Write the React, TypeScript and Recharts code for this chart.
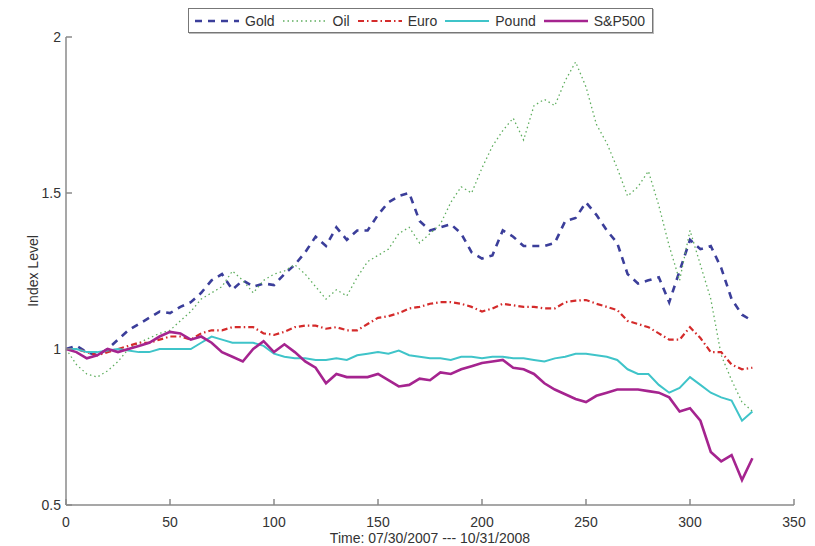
import { LineChart, Line, XAxis, YAxis, Legend } from 'recharts';

const FONT = '"Liberation Sans", Arial, Helvetica, sans-serif';

// trading days since 07/30/2007, sampled every 5 days
const days = [
  0, 5, 10, 15, 20, 25, 30, 35, 40, 45, 50, 55, 60, 65, 70, 75, 80, 85, 90, 95,
  100, 105, 110, 115, 120, 125, 130, 135, 140, 145, 150, 155, 160, 165, 170, 175,
  180, 185, 190, 195, 200, 205, 210, 215, 220, 225, 230, 235, 240, 245, 250, 255,
  260, 265, 270, 275, 280, 285, 290, 295, 300, 305, 310, 315, 320, 325, 330,
];

const gold = [
  1.0, 1.01, 0.99, 0.98, 1.0, 1.03, 1.06, 1.08, 1.1, 1.12, 1.115, 1.135, 1.15, 1.18,
  1.22, 1.24, 1.19, 1.22, 1.2, 1.21, 1.205, 1.24, 1.27, 1.31, 1.36, 1.33, 1.39, 1.35,
  1.38, 1.38, 1.43, 1.47, 1.49, 1.5, 1.41, 1.38, 1.39, 1.4, 1.37, 1.31, 1.29, 1.3,
  1.38, 1.36, 1.33, 1.33, 1.33, 1.34, 1.41, 1.42, 1.47, 1.43, 1.38, 1.34, 1.24, 1.21,
  1.22, 1.23, 1.15, 1.25, 1.35, 1.32, 1.33, 1.26, 1.16, 1.11, 1.09,
];

const oil = [
  1.0, 0.95, 0.92, 0.91, 0.93, 0.96, 1.0, 1.02, 1.035, 1.05, 1.06, 1.09, 1.12, 1.16,
  1.18, 1.2, 1.25, 1.22, 1.18, 1.22, 1.24, 1.25, 1.27, 1.24, 1.2, 1.16, 1.19, 1.17,
  1.23, 1.28, 1.3, 1.32, 1.37, 1.39, 1.34, 1.37, 1.4, 1.47, 1.52, 1.5, 1.58, 1.65,
  1.7, 1.74, 1.67, 1.78, 1.8, 1.78, 1.86, 1.92, 1.84, 1.72, 1.66, 1.58, 1.49, 1.52,
  1.57, 1.46, 1.33, 1.22, 1.38, 1.27, 1.16, 0.98, 0.9, 0.83, 0.8,
];

const euro = [
  1.0, 1.0, 0.99, 0.98, 0.99, 1.0, 1.01, 1.02, 1.02, 1.03, 1.04, 1.04, 1.03, 1.05,
  1.06, 1.06, 1.07, 1.07, 1.07, 1.05, 1.045, 1.055, 1.07, 1.075, 1.075, 1.065, 1.07,
  1.06, 1.06, 1.08, 1.1, 1.105, 1.115, 1.13, 1.135, 1.145, 1.15, 1.15, 1.145, 1.135,
  1.12, 1.13, 1.145, 1.14, 1.135, 1.135, 1.13, 1.13, 1.15, 1.155, 1.157, 1.145, 1.135,
  1.125, 1.09, 1.08, 1.07, 1.05, 1.03, 1.03, 1.07, 1.035, 0.99, 0.99, 0.95, 0.935, 0.94,
];

const pound = [
  1.0, 1.0, 0.99, 0.99, 0.995, 1.0, 0.995, 0.99, 0.99, 1.0, 1.0, 1.0, 1.0, 1.02, 1.04,
  1.03, 1.02, 1.02, 1.02, 1.01, 0.985, 0.975, 0.97, 0.97, 0.965, 0.965, 0.97, 0.965,
  0.98, 0.985, 0.99, 0.985, 0.995, 0.98, 0.975, 0.97, 0.97, 0.965, 0.975, 0.975, 0.97,
  0.975, 0.975, 0.97, 0.97, 0.965, 0.96, 0.97, 0.975, 0.985, 0.985, 0.98, 0.975, 0.965,
  0.935, 0.92, 0.92, 0.885, 0.86, 0.875, 0.91, 0.885, 0.86, 0.845, 0.835, 0.77, 0.8,
];

const sp500 = [
  1.0, 0.99, 0.97, 0.98, 1.0, 0.99, 1.0, 1.01, 1.02, 1.04, 1.055, 1.05, 1.03, 1.04,
  1.02, 0.99, 0.975, 0.96, 1.0, 1.025, 0.99, 1.015, 0.99, 0.96, 0.94, 0.89, 0.92, 0.91,
  0.91, 0.91, 0.92, 0.9, 0.88, 0.885, 0.905, 0.9, 0.925, 0.92, 0.935, 0.945, 0.955,
  0.96, 0.965, 0.94, 0.935, 0.92, 0.89, 0.87, 0.855, 0.84, 0.83, 0.85, 0.86, 0.87,
  0.87, 0.87, 0.865, 0.86, 0.845, 0.8, 0.81, 0.77, 0.67, 0.64, 0.66, 0.58, 0.65,
];

const xTicks = [0, 50, 100, 150, 200, 250, 300, 350];
const yTicks = [0.5, 1, 1.5, 2];

const SERIES = [
  { key: 'gold', name: 'Gold', color: '#3b3e9a', width: 2.6, dash: '7 6' },
  { key: 'oil', name: 'Oil', color: '#5fae5f', width: 1.3, dash: '1.5 3' },
  { key: 'euro', name: 'Euro', color: '#d42b2b', width: 2.2, dash: '6 3 1.5 3' },
  { key: 'pound', name: 'Pound', color: '#3fc4c9', width: 2, dash: undefined },
  { key: 'sp500', name: 'S&P500', color: '#a5248f', width: 2.6, dash: undefined },
];

const data = days.map((d, i) => ({
  day: d,
  gold: gold[i],
  oil: oil[i],
  euro: euro[i],
  pound: pound[i],
  sp500: sp500[i],
}));

const AXIS = '#8a8a8a';
const TEXT = '#333';

function LegendBox() {
  return (
    <div
      style={{
        display: 'flex',
        alignItems: 'center',
        height: 23,
        border: '1px solid #777',
        boxShadow: '1px 1px 0 #bbb',
        background: '#fff',
        paddingLeft: 5,
        fontFamily: FONT,
        fontSize: 14,
        color: TEXT,
        whiteSpace: 'nowrap',
      }}
    >
      {SERIES.map((s) => (
        <span key={s.key} style={{ display: 'flex', alignItems: 'center', marginRight: 7 }}>
          <svg width={46} height={10}>
            <line
              x1={1}
              x2={45}
              y1={5}
              y2={5}
              stroke={s.color}
              strokeWidth={s.width}
              strokeDasharray={s.dash}
            />
          </svg>
          <span style={{ marginLeft: 5 }}>{s.name}</span>
        </span>
      ))}
    </div>
  );
}

export default function App() {
  return (
    <div style={{ position: 'absolute', left: 0, top: 0, width: 815, height: 546, background: '#fff' }}>
      <LineChart width={815} height={546} data={data} margin={{ top: 37, right: 21, bottom: 0, left: 0 }}>
        <XAxis
          dataKey="day"
          type="number"
          domain={[0, 350]}
          ticks={xTicks}
          height={41}
          tickSize={-6}
          tickMargin={18}
          stroke={AXIS}
          strokeWidth={1.5}
          tick={{ fill: TEXT, fontSize: 14, fontFamily: FONT }}
          label={{
            value: 'Time: 07/30/2007 --- 10/31/2008',
            position: 'insideBottom',
            offset: 3,
            fill: TEXT,
            fontSize: 14,
            fontFamily: FONT,
          }}
        />
        <XAxis
          xAxisId="top"
          orientation="top"
          dataKey="day"
          type="number"
          domain={[0, 350]}
          ticks={xTicks}
          height={0}
          tickSize={-6}
          tick={false}
          stroke={AXIS}
          strokeWidth={1.5}
        />
        <YAxis
          type="number"
          domain={[0.5, 2]}
          ticks={yTicks}
          width={66}
          tickSize={-6}
          tickMargin={11}
          stroke={AXIS}
          strokeWidth={1.5}
          tick={{ fill: TEXT, fontSize: 14, fontFamily: FONT }}
          label={{
            value: 'Index Level',
            angle: -90,
            position: 'center',
            fill: TEXT,
            fontSize: 14,
            fontFamily: FONT,
          }}
        />
        <YAxis
          yAxisId="right"
          orientation="right"
          type="number"
          domain={[0.5, 2]}
          ticks={yTicks}
          width={0}
          tickSize={-6}
          tick={false}
          stroke={AXIS}
          strokeWidth={1.5}
        />
        <Legend
          layout="horizontal"
          verticalAlign="middle"
          content={<LegendBox />}
          wrapperStyle={{ top: 8, left: 188, width: 'auto' }}
        />
        {SERIES.map((s) => (
          <Line
            key={s.key}
            type="linear"
            dataKey={s.key}
            name={s.name}
            stroke={s.color}
            strokeWidth={s.width}
            strokeDasharray={s.dash}
            dot={false}
            activeDot={false}
            isAnimationActive={false}
          />
        ))}
      </LineChart>
    </div>
  );
}
